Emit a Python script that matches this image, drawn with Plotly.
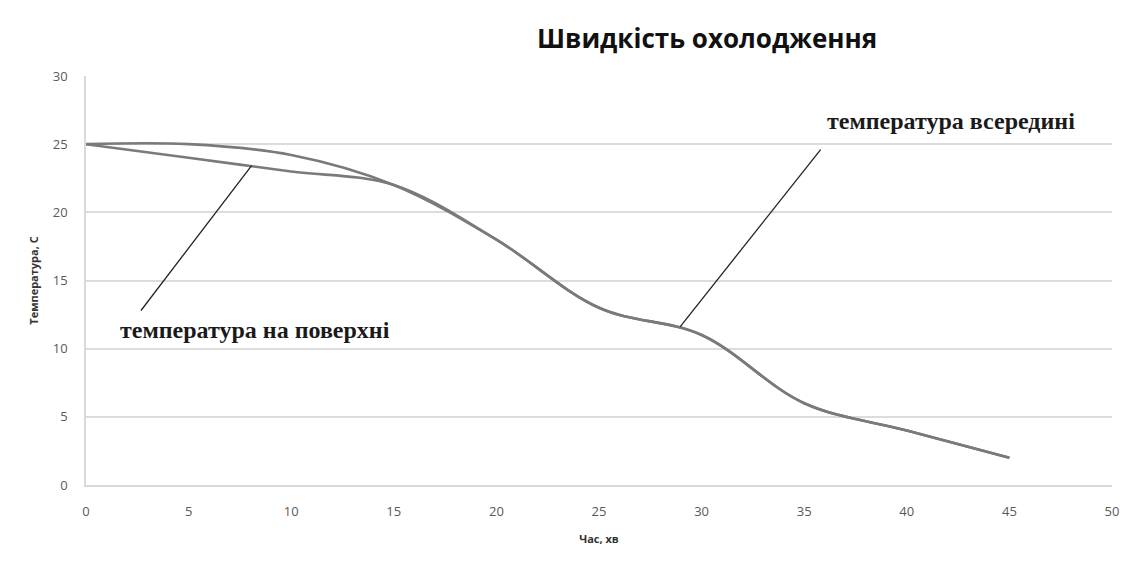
import plotly.graph_objects as go

time_min = [0, 5, 10, 15, 20, 25, 30, 35, 40, 45]
temp_inside = [25, 25, 24.2, 22, 18, 13, 11, 6, 4, 2]
temp_surface = [25, 24, 23, 22, 18, 13, 11, 6, 4, 2]

x_ticks = [0, 5, 10, 15, 20, 25, 30, 35, 40, 45, 50]
y_ticks = [0, 5, 10, 15, 20, 25, 30]

title_text = "Швидкість охолодження"
x_title = "Час, хв"
y_title = "Температура, С"
label_surface = "температура на поверхні"
label_inside = "температура всередині"

# callout leader lines (data coords): [x0, y0, x1, y1]
callout_surface = [2.68, 12.8, 8.07, 23.43]
callout_inside = [28.95, 11.6, 35.8, 24.6]

line_color = "#7a7a7a"

fig = go.Figure()
fig.add_trace(go.Scatter(x=time_min, y=temp_surface, mode="lines",
                         line=dict(color=line_color, width=2.6, shape="spline", smoothing=1),
                         name=label_surface, showlegend=False))
fig.add_trace(go.Scatter(x=time_min, y=temp_inside, mode="lines",
                         line=dict(color=line_color, width=2.6, shape="spline", smoothing=1),
                         name=label_inside, showlegend=False))

for c in (callout_surface, callout_inside):
    fig.add_shape(type="line", xref="x", yref="y", x0=c[0], y0=c[1], x1=c[2], y1=c[3],
                  line=dict(color="#222222", width=1.3))

fig.add_annotation(x=1.55, y=11.4, xref="x", yref="y", text="<b>" + label_surface + "</b>",
                   showarrow=False, xanchor="left", yanchor="middle",
                   font=dict(family="Liberation Serif", size=24, color="#1a1a1a"))
fig.add_annotation(x=36.0, y=26.7, xref="x", yref="y", text="<b>" + label_inside + "</b>",
                   showarrow=False, xanchor="left", yanchor="middle",
                   font=dict(family="Liberation Serif", size=24, color="#1a1a1a"))

plot_w = 1131 - 86 - 19
plot_h = 584 - 99 - 76
fig.add_annotation(x=(707 - 86) / plot_w, y=1 + (76 - 38) / plot_h, xref="paper", yref="paper",
                   text="<b>" + title_text + "</b>",
                   showarrow=False, xanchor="center", yanchor="middle",
                   font=dict(family="Open Sans", size=26, color="#111111"))

fig.update_layout(
    width=1131, height=584,
    margin=dict(l=86, r=19, t=76, b=99),
    paper_bgcolor="white", plot_bgcolor="white",
    showlegend=False,
    xaxis=dict(range=[0, 50], tickvals=x_ticks, showgrid=False, zeroline=False,
               showline=True, linecolor="#d9d9d9", linewidth=1.5,
               ticks="", ticklabelstandoff=14,
               tickfont=dict(family="Open Sans", size=13, color="#595959"),
               title=dict(text="<b>" + x_title + "</b>", standoff=16,
                          font=dict(family="Open Sans", size=11, color="#333333"))),
    yaxis=dict(range=[0, 30], tickvals=y_ticks, showgrid=True, gridcolor="#dcdcdc", gridwidth=1.5,
               zeroline=False, showline=True, linecolor="#d9d9d9", linewidth=1.5,
               ticks="", ticklabelstandoff=14,
               tickfont=dict(family="Open Sans", size=13, color="#595959"),
               title=dict(text="<b>" + y_title + "</b>", standoff=12,
                          font=dict(family="Open Sans", size=11, color="#333333"))),
)

fig.write_html("out.html")
